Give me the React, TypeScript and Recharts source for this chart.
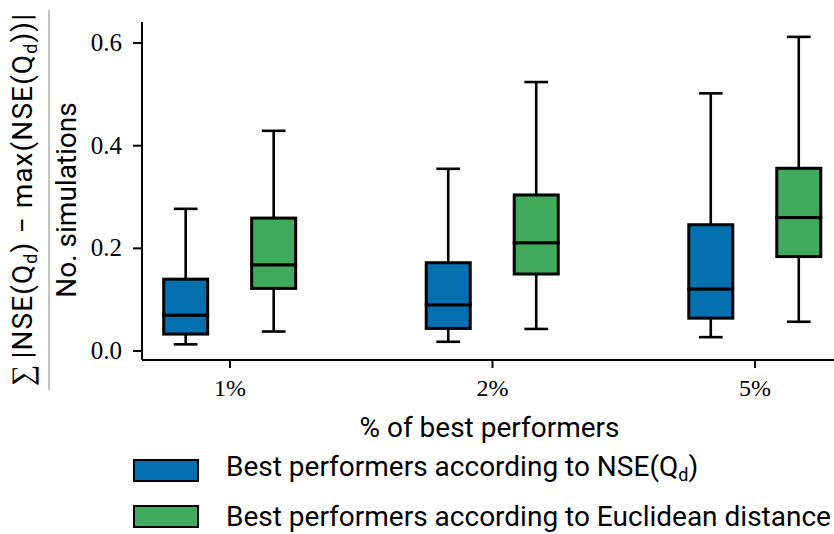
import { Bar, ComposedChart, XAxis, YAxis } from "recharts";

const categories = ["1%", "2%", "5%"];
const positions = [1, 2, 3];

// Best performers according to NSE(Qd)
const nseLow = [0.013, 0.018, 0.027];
const nseQ1 = [0.033, 0.044, 0.064];
const nseMedian = [0.07, 0.09, 0.121];
const nseQ3 = [0.14, 0.172, 0.246];
const nseHigh = [0.277, 0.355, 0.502];

// Best performers according to Euclidean distance
const eucLow = [0.038, 0.043, 0.057];
const eucQ1 = [0.122, 0.15, 0.184];
const eucMedian = [0.168, 0.211, 0.26];
const eucQ3 = [0.259, 0.304, 0.356];
const eucHigh = [0.429, 0.524, 0.612];

const yTicks = [0, 0.2, 0.4, 0.6];

const BLUE = "#0570b0";
const GREEN = "#41ab5d";
const SANS = "Roboto, sans-serif";
const SERIF = "Liberation Serif, serif";

// stacked segments: invisible base, lower whisker, lower box half, upper box half, upper whisker
const rows = positions.map((pos, i) => ({
  pos,
  nseBase: nseLow[i],
  nseWLow: nseQ1[i] - nseLow[i],
  nseBoxLow: nseMedian[i] - nseQ1[i],
  nseBoxHigh: nseQ3[i] - nseMedian[i],
  nseWHigh: nseHigh[i] - nseQ3[i],
  eucBase: eucLow[i],
  eucWLow: eucQ1[i] - eucLow[i],
  eucBoxLow: eucMedian[i] - eucQ1[i],
  eucBoxHigh: eucQ3[i] - eucMedian[i],
  eucWHigh: eucHigh[i] - eucQ3[i],
}));

const Empty = () => <g />;

const LowerWhisker = (props: any) => {
  const { x, y, width, height } = props;
  const cx = x + width / 2;
  const cap = width * 0.27;
  return (
    <g stroke="#000" strokeWidth={2.6}>
      <line x1={cx} x2={cx} y1={y} y2={y + height} />
      <line x1={cx - cap} x2={cx + cap} y1={y + height} y2={y + height} />
    </g>
  );
};

const UpperWhisker = (props: any) => {
  const { x, y, width, height } = props;
  const cx = x + width / 2;
  const cap = width * 0.27;
  return (
    <g stroke="#000" strokeWidth={2.6}>
      <line x1={cx} x2={cx} y1={y} y2={y + height} />
      <line x1={cx - cap} x2={cx + cap} y1={y} y2={y} />
    </g>
  );
};

const boxShape = (color: string) => (props: any) => {
  const { x, y, width, height } = props;
  return <rect x={x} y={y} width={width} height={height} fill={color} stroke="#000" strokeWidth={3} />;
};

const YTick = (props: any) => {
  const { x, y, payload } = props;
  return (
    <text x={x} y={y + 8} textAnchor="end" fontFamily={SERIF} fontSize={25} fill="#000">
      {payload.value.toFixed(1)}
    </text>
  );
};

const XTick = (props: any) => {
  const { x, y, payload } = props;
  return (
    <text x={x} y={y + 26} textAnchor="middle" fontFamily={SERIF} fontSize={24} fill="#000">
      {categories[payload.value - 1]}
    </text>
  );
};

const YLabel = (props: any) => {
  const { viewBox } = props;
  const cy = viewBox.y + viewBox.height / 2 + 9;
  const numX = viewBox.x - 50;
  const denX = viewBox.x - 6;
  return (
    <g>
      <text
        x={numX}
        y={cy}
        transform={`rotate(-90, ${numX}, ${cy})`}
        textAnchor="middle"
        fontFamily={SANS}
        fontSize={28}
        fill="#000"
        textLength={372}
        lengthAdjust="spacing"
      >
        <tspan fontFamily={SERIF} fontSize={30}>∑</tspan>
        <tspan dx={5}>|NSE(Q</tspan>
        <tspan fontSize={18} dy={5}>d</tspan>
        <tspan dy={-5}>) − max(NSE(Q</tspan>
        <tspan fontSize={18} dy={5}>d</tspan>
        <tspan dy={-5}>))|</tspan>
      </text>
      <line x1={viewBox.x - 33} x2={viewBox.x - 33} y1={cy - 190} y2={cy + 190} stroke="#999" strokeWidth={1.2} />
      <text
        x={denX}
        y={cy}
        transform={`rotate(-90, ${denX}, ${cy})`}
        textAnchor="middle"
        fontFamily={SANS}
        fontSize={28}
        fill="#000"
      >
        No. simulations
      </text>
    </g>
  );
};

const XLabel = (props: any) => {
  const { viewBox } = props;
  return (
    <text
      x={viewBox.x + viewBox.width / 2 - 3}
      y={viewBox.y + 77}
      textAnchor="middle"
      fontFamily={SANS}
      fontSize={28}
      fill="#000"
    >
      % of best performers
    </text>
  );
};

const legendItems = [
  { color: BLUE, label: <>Best performers according to NSE(Q<sub style={{ fontSize: 18, verticalAlign: -5 }}>d</sub>)</> },
  { color: GREEN, label: <>Best performers according to Euclidean distance</> },
];

export default function App() {
  return (
    <div
      style={{
        position: "absolute",
        left: 0,
        top: 0,
        width: 834,
        height: 534,
        overflow: "hidden",
        background: "#fff",
      }}
    >
      <ComposedChart
        width={860}
        height={534}
        data={rows}
        margin={{ top: 22, right: 17, left: 82, bottom: 114 }}
        barSize={44}
        barGap={44}
      >
        <XAxis
          dataKey="pos"
          type="number"
          domain={[0.665, 3.335]}
          allowDataOverflow
          ticks={positions}
          height={60}
          axisLine={{ stroke: "#000", strokeWidth: 2 }}
          tickLine={{ stroke: "#000", strokeWidth: 2 }}
          tickSize={8}
          tickMargin={2}
          tick={<XTick />}
          label={{ content: XLabel }}
        />
        <XAxis
          xAxisId="top"
          orientation="top"
          type="number"
          domain={[0.665, 3.335]}
          allowDataOverflow
          height={0}
          tick={false}
          tickLine={false}
          axisLine={{ stroke: "#000", strokeWidth: 2 }}
        />
        <YAxis
          type="number"
          domain={[-0.0175, 0.641]}
          allowDataOverflow
          ticks={yTicks}
          width={60}
          axisLine={{ stroke: "#000", strokeWidth: 2 }}
          tickLine={{ stroke: "#000", strokeWidth: 2 }}
          tickSize={9}
          tickMargin={11}
          tick={<YTick />}
          label={{ content: YLabel }}
        />
        <Bar dataKey="nseBase" stackId="nse" shape={Empty} isAnimationActive={false} legendType="none" />
        <Bar dataKey="nseWLow" stackId="nse" shape={LowerWhisker} isAnimationActive={false} legendType="none" />
        <Bar dataKey="nseBoxLow" stackId="nse" shape={boxShape(BLUE)} isAnimationActive={false} legendType="none" />
        <Bar dataKey="nseBoxHigh" stackId="nse" shape={boxShape(BLUE)} isAnimationActive={false} legendType="none" />
        <Bar dataKey="nseWHigh" stackId="nse" shape={UpperWhisker} isAnimationActive={false} legendType="none" />
        <Bar dataKey="eucBase" stackId="euc" shape={Empty} isAnimationActive={false} legendType="none" />
        <Bar dataKey="eucWLow" stackId="euc" shape={LowerWhisker} isAnimationActive={false} legendType="none" />
        <Bar dataKey="eucBoxLow" stackId="euc" shape={boxShape(GREEN)} isAnimationActive={false} legendType="none" />
        <Bar dataKey="eucBoxHigh" stackId="euc" shape={boxShape(GREEN)} isAnimationActive={false} legendType="none" />
        <Bar dataKey="eucWHigh" stackId="euc" shape={UpperWhisker} isAnimationActive={false} legendType="none" />
      </ComposedChart>
      <div style={{ position: "absolute", left: 133, top: 459, fontFamily: SANS, fontSize: 28 }}>
        {legendItems.map((item, i) => (
          <div key={i} style={{ display: "flex", alignItems: "center", height: 23, marginBottom: 23 }}>
            <div
              style={{
                width: 66,
                height: 23,
                boxSizing: "border-box",
                border: "2.5px solid #000",
                background: item.color,
              }}
            />
            <span style={{ marginLeft: 27, whiteSpace: "nowrap", lineHeight: "23px" }}>{item.label}</span>
          </div>
        ))}
      </div>
    </div>
  );
}
